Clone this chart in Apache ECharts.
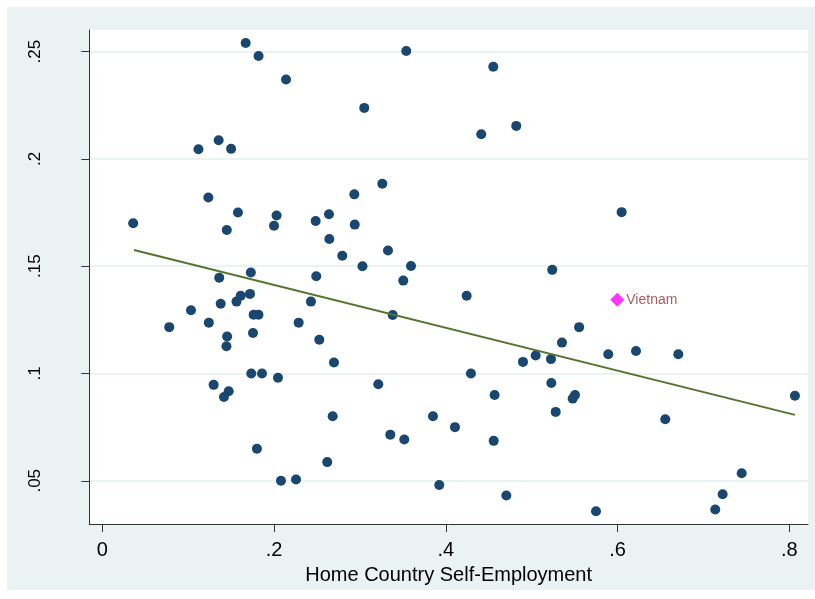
<!DOCTYPE html>
<html>
<head>
<meta charset="utf-8">
<script src="https://cdn.jsdelivr.net/npm/echarts@6/dist/echarts.min.js"></script>
<style>
html, body { margin: 0; padding: 0; background: #fff; }
#main { position: absolute; left: 7px; top: 7px; width: 808px; height: 583px; }
</style>
</head>
<body>
<div id="main"></div>
<script>
// home country self-employment (x) vs outcome (y), one point per country
var selfEmp = [
    .167, .182, .214, .112, .1355, .150, .1235, .036, .158, .203,
    .200, .145, .2485, .264, .2935, .294, .2644, .2795, .303, .1362,
    .173, .2492, .172, .1612, .1563, .1379, .1033, .078, .1241, .1454,
    .1446, .1763, .1819, .1755, .243, .2287, .2527, .2698, .1735, .186,
    .2046, .1297, .1472, .1417, .2683, .1801, .262, .2081, .2256, .354,
    .4553, .3051, .4413, .4821, .3261, .3327, .3595, .524, .3505, .4243,
    .3382, .5553, .5353, .4899, .5047, .5225, .4293, .3214, .5229, .4569,
    .5505, .5478, .528, .3851, .4107, .3354, .3517, .4558, .3924, .4705,
    .6048, .5892, .6215, .6708, .6556, .8066, .7446, .7224, .7138, .5749
];
var outcome = [
    .254, .248, .237, .2045, .2087, .2047, .182, .170, .175, .1736,
    .1689, .1669, .1711, .1742, .1835, .1694, .1627, .1549, .150, .1446,
    .1471, .1453, .1371, .1362, .1335, .1325, .1295, .1216, .1237, .1172,
    .1127, .1274, .1274, .1189, .1335, .1237, .1157, .1051, .100, .100,
    .098, .0947, .0917, .089, .0801, .0649, .0587, .050, .0506, .2503,
    .243, .2238, .2115, .2154, .1884, .1573, .1501, .1483, .1433, .1362,
    .1273, .1216, .1144, .1054, .1084, .1067, .100, .095, .0956, .090,
    .090, .0883, .0821, .0801, .075, .0715, .0692, .0686, .048, .0431,
    .1752, .109, .1105, .109, .0787, .0896, .0535, .0437, .0366, .0358
];

var highlightName = ['Vietnam'];
var highlightX = [.5997];
var highlightY = [.1344];

// fitted line end points
var fitX = [.0369, .8066];
var fitY = [.1576, .0807];

var xTicks = [0, .2, .4, .6, .8];
var yTicks = [.05, .1, .15, .2, .25];
var xTitle = 'Home Country Self-Employment';

var bgColor = '#eaf2f3';
var dotColor = '#1a476f';
var fitColor = '#55752f';
var axisColor = '#333333';

function fmt(v) {
    if (v === 0) return '0';
    return String(+v.toFixed(2)).replace(/^0\./, '.');
}

var points = selfEmp.map(function (x, i) { return [x, outcome[i]]; });
var hiPoints = highlightX.map(function (x, i) { return { name: highlightName[i], value: [x, highlightY[i]] }; });
var fitLine = fitX.map(function (x, i) { return [x, fitY[i]]; });

var chart = echarts.init(document.getElementById('main'));

var option = {
    backgroundColor: bgColor,
    animation: false,
    textStyle: { fontFamily: 'Liberation Sans, Arial, sans-serif' },
    grid: {
        left: 82.3,
        top: 23,
        right: 7,
        bottom: 65.7,
        show: true,
        backgroundColor: '#ffffff',
        borderWidth: 0
    },
    xAxis: {
        type: 'value',
        min: -0.0151,
        max: 0.8218,
        name: xTitle,
        nameLocation: 'middle',
        nameGap: 37,
        nameTextStyle: { fontSize: 20, color: '#000' },
        axisLine: { show: true, onZero: false, lineStyle: { color: axisColor, width: 1 } },
        axisTick: { show: true, length: 8, customValues: xTicks, lineStyle: { color: axisColor } },
        axisLabel: { customValues: xTicks, formatter: fmt, fontSize: 20, color: '#000', margin: 16 },
        splitLine: { show: false }
    },
    yAxis: {
        type: 'value',
        min: 0.0298,
        max: 0.2601,
        axisLine: { show: true, onZero: false, lineStyle: { color: axisColor, width: 1 } },
        axisTick: { show: true, length: 8, customValues: yTicks, lineStyle: { color: axisColor } },
        axisLabel: { customValues: yTicks, formatter: fmt, fontSize: 17, color: '#000', rotate: 90, margin: 45 },
        splitLine: { show: true, lineStyle: { color: bgColor, width: 2 } }
    },
    series: [{
        type: 'scatter',
        data: points,
        symbol: 'circle',
        symbolSize: 10,
        itemStyle: { color: dotColor, opacity: 1 }
    }, {
        type: 'line',
        data: fitLine,
        symbol: 'none',
        lineStyle: { color: fitColor, width: 2 }
    }, {
        type: 'scatter',
        data: hiPoints,
        symbol: 'diamond',
        symbolSize: 14,
        itemStyle: { color: '#ff00ff' },
        label: {
            show: true,
            position: 'right',
            distance: 2,
            formatter: '{b}',
            fontSize: 14,
            color: '#90353b'
        }
    }]
};

chart.setOption(option);
</script>
</body>
</html>
